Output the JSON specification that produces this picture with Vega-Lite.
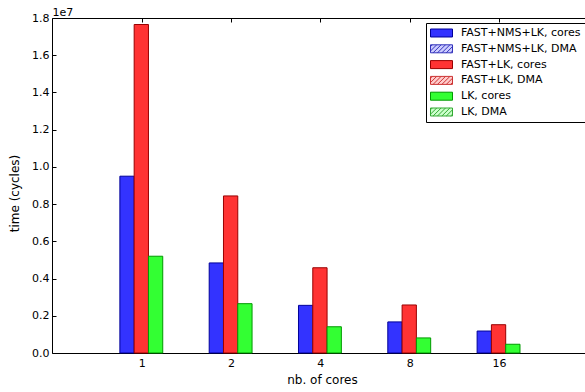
{
  "$schema": "https://vega.github.io/schema/vega-lite/v6.json",
  "autosize": {"type": "none"},
  "padding": {"left": 52, "top": 18, "right": 0, "bottom": 39},
  "width": 533,
  "height": 335,
  "data": {"values": [
    {"cores": "1", "series": "FAST+NMS+LK, cores", "time": 9500000},
    {"cores": "1", "series": "FAST+LK, cores", "time": 17650000},
    {"cores": "1", "series": "LK, cores", "time": 5200000},
    {"cores": "2", "series": "FAST+NMS+LK, cores", "time": 4840000},
    {"cores": "2", "series": "FAST+LK, cores", "time": 8440000},
    {"cores": "2", "series": "LK, cores", "time": 2650000},
    {"cores": "4", "series": "FAST+NMS+LK, cores", "time": 2560000},
    {"cores": "4", "series": "FAST+LK, cores", "time": 4580000},
    {"cores": "4", "series": "LK, cores", "time": 1410000},
    {"cores": "8", "series": "FAST+NMS+LK, cores", "time": 1670000},
    {"cores": "8", "series": "FAST+LK, cores", "time": 2580000},
    {"cores": "8", "series": "LK, cores", "time": 810000},
    {"cores": "16", "series": "FAST+NMS+LK, cores", "time": 1180000},
    {"cores": "16", "series": "FAST+LK, cores", "time": 1520000},
    {"cores": "16", "series": "LK, cores", "time": 470000}
  ]},
  "layer": [
    {
      "mark": {"type": "bar", "strokeWidth": 1},
      "encoding": {
        "x": {
          "field": "cores", "type": "nominal", "sort": ["1", "2", "4", "8", "16"],
          "scale": {"paddingInner": 0.04, "paddingOuter": 0.504, "align": 0.754},
          "axis": {"title": "nb. of cores", "labelAngle": 0, "bandPosition": 0.26, "labelOffset": -20.5, "tickSize": -4, "labelPadding": 8, "titleX": 270, "titleY": 21, "titleBaseline": "top"}
        },
        "xOffset": {
          "field": "series", "type": "nominal",
          "scale": {"domain": ["FAST+NMS+LK, cores", "FAST+LK, cores", "LK, cores", "FAST+NMS+LK, DMA", "FAST+LK, DMA", "LK, DMA"], "paddingInner": 0, "paddingOuter": 0}
        },
        "y": {
          "field": "time", "type": "quantitative",
          "scale": {"domain": [0, 18000000], "nice": false},
          "axis": {"title": "time (cycles)", "values": [0, 2000000, 4000000, 6000000, 8000000, 10000000, 12000000, 14000000, 16000000, 18000000], "labelExpr": "format(datum.value / 10000000, '.1f')", "labelOverlap": false, "labelBound": false, "labelFlush": false, "tickSize": -4, "labelPadding": 7, "titleX": -31, "titleY": 175}
        },
        "fill": {
          "field": "series", "type": "nominal",
          "scale": {"domain": ["FAST+NMS+LK, cores", "FAST+NMS+LK, DMA", "FAST+LK, cores", "FAST+LK, DMA", "LK, cores", "LK, DMA"], "range": ["#3333ff", "#ccccff", "#ff3333", "#ffcccc", "#33ff33", "#ccffcc"]},
          "legend": {
            "title": null, "orient": "none", "legendX": 374, "legendY": 5,
            "strokeColor": "black", "fillColor": "white", "padding": 4, "cornerRadius": 0,
            "labelFont": "DejaVu Sans", "labelFontSize": 11, "labelColor": "black", "labelOffset": 19, "labelLimit": 200,
            "symbolSize": 121, "rowPadding": 3.8, "symbolStrokeWidth": 1,
            "encode": {
              "symbols": {
                "update": {
                  "shape": {"signal": "indexof(datum.value, 'DMA') >= 0 ? 'M-1,-0.727H3V0.727H-1Z M-1,0.4L0.127,-0.727 M-0.527,0.727L0.927,-0.727 M0.273,0.727L1.727,-0.727 M1.073,0.727L2.527,-0.727 M1.873,0.727L3,-0.4 M-1,-0.4L-0.673,-0.727 M2.673,0.727L3,0.4' : 'M-1,-0.727H3V0.727H-1Z'"},
                  "fill": {"scale": "fill", "field": "value"},
                  "stroke": {"scale": "stroke", "field": "value"},
                  "strokeWidth": {"value": 1},
                  "opacity": {"value": 1}
                }
              }
            }
          }
        },
        "stroke": {
          "field": "series", "type": "nominal",
          "scale": {"domain": ["FAST+NMS+LK, cores", "FAST+NMS+LK, DMA", "FAST+LK, cores", "FAST+LK, DMA", "LK, cores", "LK, DMA"], "range": ["#000099", "#3333bb", "#990000", "#cc3333", "#009900", "#33aa33"]},
          "legend": null
        }
      }
    },
    {
      "mark": {"type": "bar", "opacity": 0},
      "encoding": {
        "x": {
          "field": "cores", "type": "nominal", "sort": ["1", "2", "4", "8", "16"],
          "axis": {"orient": "top", "title": "1e7", "labels": false, "bandPosition": 0.26, "tickSize": -4, "titleX": 0, "titleY": -2.5, "titleAlign": "left", "titleAnchor": "start", "titleBaseline": "alphabetic", "titleFontSize": 11}
        },
        "y": {"field": "time", "type": "quantitative", "axis": null}
      }
    }
  ],
  "resolve": {"axis": {"x": "independent", "y": "independent"}},
  "config": {
    "view": {"stroke": null},
    "font": "DejaVu Sans",
    "axis": {
      "grid": false, "domainColor": "black", "tickColor": "black", "labelColor": "black", "titleColor": "black",
      "labelFont": "DejaVu Sans", "titleFont": "DejaVu Sans", "labelFontSize": 11, "titleFontSize": 12, "titleFontWeight": "normal",
      "domainWidth": 1, "tickWidth": 1
    }
  }
}
